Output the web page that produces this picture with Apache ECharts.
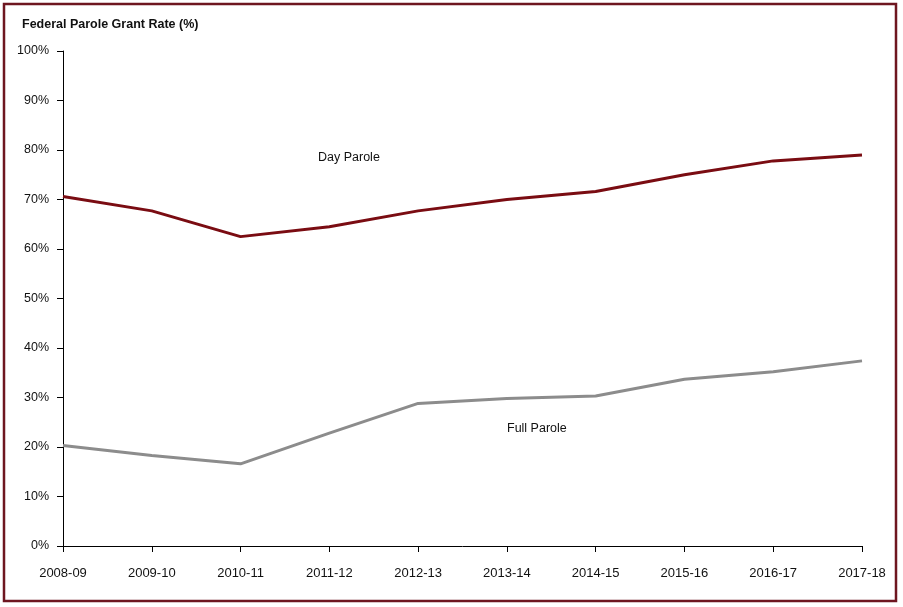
<!DOCTYPE html>
<html>
<head>
<meta charset="utf-8">
<script src="https://cdn.jsdelivr.net/npm/echarts@6/dist/echarts.min.js"></script>
<style>
html,body{margin:0;padding:0;background:#fff;}
#chart{width:903px;height:607px;}
</style>
</head>
<body>
<div id="chart"></div>
<script>
var categories = ['2008-09','2009-10','2010-11','2011-12','2012-13','2013-14','2014-15','2015-16','2016-17','2017-18'];
var dayParole = [70.6, 67.7, 62.5, 64.5, 67.7, 70.0, 71.6, 75.0, 77.8, 79.0];
var fullParole = [20.3, 18.3, 16.6, 22.8, 28.8, 29.8, 30.3, 33.7, 35.2, 37.4];
var yTicks = [0, 10, 20, 30, 40, 50, 60, 70, 80, 90, 100];
var titleText = 'Federal Parole Grant Rate (%)';
var dayLabel = 'Day Parole';
var fullLabel = 'Full Parole';

var chart = echarts.init(document.getElementById('chart'), null, {renderer: 'canvas'});
var font = 'Liberation Sans, Arial, sans-serif';
var option = {
  backgroundColor: '#ffffff',
  animation: false,
  grid: {left: 63, right: 41, top: 51, bottom: 61, containLabel: false},
  xAxis: {
    type: 'category',
    data: categories,
    boundaryGap: false,
    axisLine: {lineStyle: {color: '#000', width: 1}},
    axisTick: {show: true, alignWithLabel: true, length: 6, lineStyle: {color: '#000'}},
    axisLabel: {color: '#111', fontFamily: font, fontSize: 13, margin: 21},
    splitLine: {show: false}
  },
  yAxis: {
    type: 'value',
    min: yTicks[0],
    max: yTicks[yTicks.length - 1],
    interval: 10,
    axisLine: {show: true, lineStyle: {color: '#000', width: 1}},
    axisTick: {show: true, length: 6, lineStyle: {color: '#000'}},
    axisLabel: {color: '#111', fontFamily: font, fontSize: 12.5, margin: 14, formatter: '{value}%'},
    splitLine: {show: false}
  },
  series: [
    {
      name: dayLabel, type: 'line', data: dayParole, symbol: 'none',
      lineStyle: {color: '#7a0c12', width: 3}
    },
    {
      name: fullLabel, type: 'line', data: fullParole, symbol: 'none',
      lineStyle: {color: '#8c8c8c', width: 3}
    }
  ],
  graphic: [
    {type: 'rect', shape: {x: 4, y: 4, width: 892, height: 597},
     style: {fill: 'none', stroke: '#6e1620', lineWidth: 2.5}, z: 100},
    {type: 'text', left: 22, top: 18,
     style: {text: titleText, font: 'bold 12.5px ' + font, fill: '#111'}},
    {type: 'text', left: 318, top: 151,
     style: {text: dayLabel, font: '12.5px ' + font, fill: '#111'}},
    {type: 'text', left: 507, top: 422,
     style: {text: fullLabel, font: '12.5px ' + font, fill: '#111'}}
  ]
};
chart.setOption(option);
</script>
</body>
</html>
